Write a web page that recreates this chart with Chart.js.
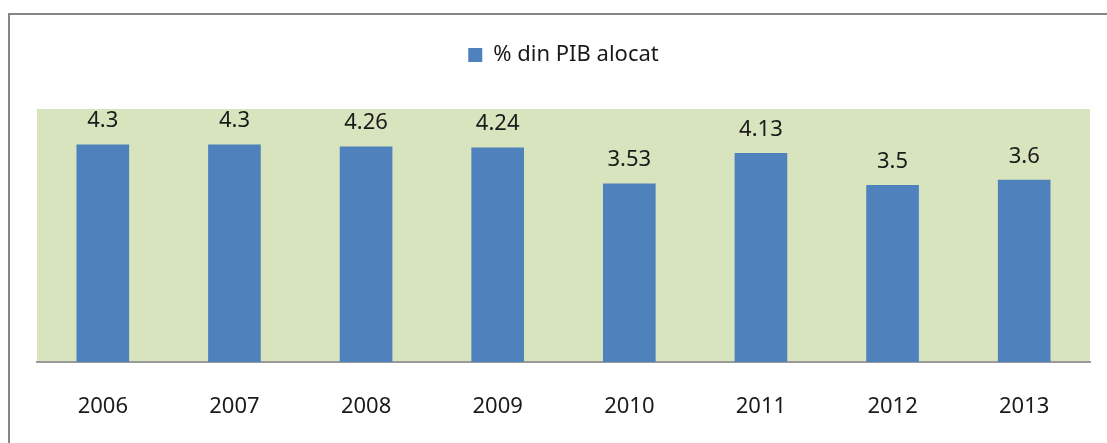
<!DOCTYPE html>
<html>
<head>
<meta charset="utf-8">
<script src="https://cdn.jsdelivr.net/npm/chart.js@4"></script>
<style>
    html, body { margin: 0; padding: 0; background: #fff; overflow: hidden; }
    #wrap { position: relative; width: 1107px; height: 443px; }
    #frame {
        position: absolute; left: 8px; top: 13px; width: 1120px; height: 460px;
        border: 2px solid #868686; box-sizing: border-box; pointer-events: none;
    }
    canvas { position: absolute; left: 0; top: 0; }
</style>
</head>
<body>
<div id="wrap">
    <canvas id="chart" width="1107" height="443"></canvas>
    <div id="frame"></div>
</div>
<script>
// Data
const years = ['2006', '2007', '2008', '2009', '2010', '2011', '2012', '2013'];
const pibShare = [4.3, 4.3, 4.26, 4.24, 3.53, 4.13, 3.5, 3.6];
const seriesName = '% din PIB alocat';

const FONT = '"Noto Sans", "DejaVu Sans", sans-serif';

// extra room under the legend
const legendSpacing = {
    id: 'legendSpacing',
    beforeInit(chart) {
        const fit = chart.legend.fit;
        chart.legend.fit = function() {
            fit.bind(chart.legend)();
            this.height += 33;
        };
    }
};

// green plot background
const plotBackground = {
    id: 'plotBackground',
    beforeDraw(chart) {
        const { ctx, chartArea } = chart;
        ctx.save();
        ctx.fillStyle = '#D7E4BD';
        ctx.fillRect(chartArea.left, chartArea.top, chartArea.right - chartArea.left, chartArea.bottom - chartArea.top);
        ctx.restore();
    }
};

// value labels above bars
const valueLabels = {
    id: 'valueLabels',
    afterDatasetsDraw(chart) {
        const { ctx } = chart;
        const meta = chart.getDatasetMeta(0);
        ctx.save();
        ctx.font = '22px ' + FONT;
        ctx.fillStyle = '#1a1a1a';
        ctx.textAlign = 'center';
        ctx.textBaseline = 'alphabetic';
        meta.data.forEach((bar, i) => {
            ctx.fillText(String(pibShare[i]), bar.x, bar.y - 17);
        });
        ctx.restore();
    }
};

new Chart(document.getElementById('chart'), {
    type: 'bar',
    data: {
        labels: years,
        datasets: [{
            label: seriesName,
            data: pibShare,
            backgroundColor: '#4F81BD',
            borderWidth: 0,
            categoryPercentage: 1,
            barPercentage: 0.4
        }]
    },
    options: {
        responsive: false,
        animation: false,
        layout: { padding: { left: 37, right: 17, top: 36, bottom: 0 } },
        plugins: {
            legend: {
                position: 'top',
                labels: {
                    font: { family: FONT, size: 22 },
                    color: '#1a1a1a',
                    boxWidth: 14,
                    boxHeight: 14,
                    padding: 8
                }
            },
            tooltip: { enabled: false }
        },
        scales: {
            x: {
                grid: { display: false, drawTicks: false },
                border: { display: true, color: '#9a9a9a', width: 2 },
                ticks: {
                    font: { family: FONT, size: 22 },
                    color: '#1a1a1a',
                    padding: 32
                },
                afterFit(scale) {
                    scale.height = 81;
                }
            },
            y: {
                display: false,
                min: 0,
                max: 5
            }
        }
    },
    plugins: [legendSpacing, plotBackground, valueLabels]
});
</script>
</body>
</html>
